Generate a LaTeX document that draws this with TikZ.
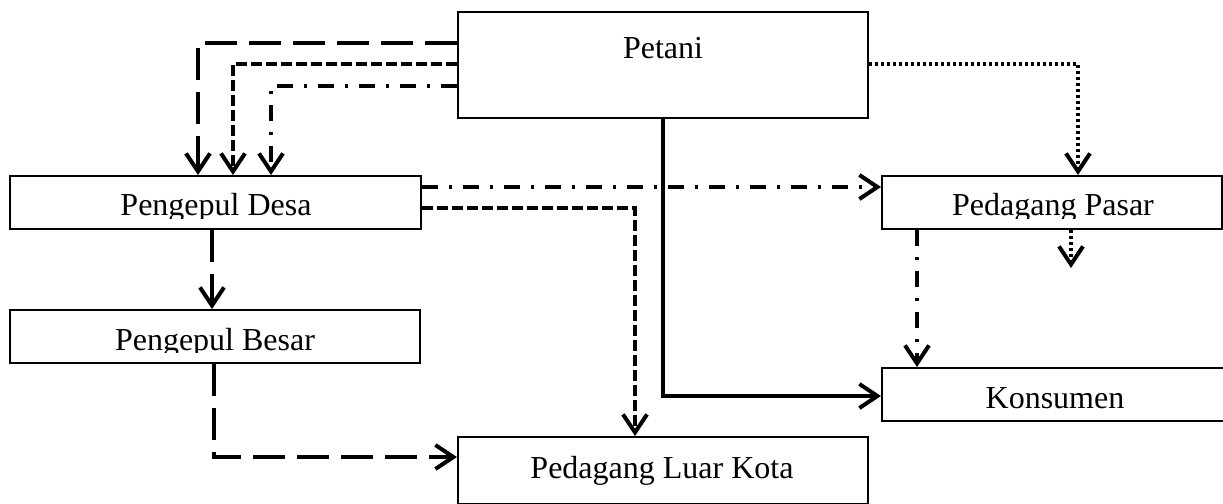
\documentclass[tikz,border=0pt]{standalone}
\usepackage{fontspec}
\setmainfont{Liberation Serif}
\usetikzlibrary{arrows.meta}
\begin{document}
\begin{tikzpicture}[x=0.5pt,y=-0.5pt,
  box/.style={draw,line width=1pt,rectangle,inner sep=0pt,anchor=center},
  lbl/.style={inner sep=0pt,anchor=base,font=\fontsize{16}{19}\selectfont},
  conn/.style={line width=2pt,-{Straight Barb[length=9pt,width=12pt]}},
  longdash/.style={dash pattern=on 16pt off 6pt},
  shortdash/.style={dash pattern=on 5.5pt off 2pt},
  dashdot/.style={dash pattern=on 8pt off 5.5pt on 1.5pt off 5.5pt},
  dots/.style={dash pattern=on 1.5pt off 1.5pt}]
\useasboundingbox (0,0) rectangle (1223,504);

% boxes
\node[box,minimum width=205pt,minimum height=53pt] (petani) at (663,65) {};
\node[box,minimum width=205.5pt,minimum height=26.5pt] (desa) at (215.5,202.5) {};
\node[box,minimum width=170pt,minimum height=26.5pt] (pasar) at (1052,202.5) {};
\node[box,minimum width=205pt,minimum height=26.5pt] (besar) at (215,336.5) {};
\node[box,minimum width=179pt,minimum height=26.5pt] (konsumen) at (1061,394.5) {};
\node[box,minimum width=205pt,minimum height=33.5pt] (luar) at (663,470.5) {};

% labels (descenders cut by the box interior where they overflow)
\node[lbl] (tpetani) at (663,58) {Petani};
\begin{scope}
  \clip (10,176) rectangle (421,218.5);
  \node[lbl] (tdesa) at (216,215) {Pengepul Desa};
\end{scope}
\begin{scope}
  \clip (882,176) rectangle (1222,218.5);
  \node[lbl] (tpasar) at (1053,215) {Pedagang Pasar};
\end{scope}
\begin{scope}
  \clip (10,310) rectangle (420,352.5);
  \node[lbl] (tbesar) at (215,350) {Pengepul Besar};
\end{scope}
\node[lbl] (tkonsumen) at (1055,408) {Konsumen};
\node[lbl] (tluar) at (662,478) {Pedagang Luar Kota};

% connectors
\draw[conn,longdash] (petani.west |- 0,43) -| (desa.north -| 198,0);
\draw[conn,shortdash] (petani.west |- 0,64) -| (desa.north -| 233,0);
\draw[conn,dashdot] (petani.west |- 0,86) -| (desa.north -| 271,0);
\draw[conn,dots] (petani.east |- 0,64) -| (pasar.north -| 1078,0);
\draw[conn,dashdot] (desa.east |- 0,187) -- (pasar.west |- 0,187);
\draw[conn,shortdash] (desa.east |- 0,208) -| (luar.north -| 635,0);
\draw[conn] (petani.south) |- (konsumen.west |- 0,396);
\draw[conn,longdash] (desa.south -| 212,0) -- (besar.north -| 212,0);
\draw[conn,longdash] (besar.south -| 214,0) |- (luar.west |- 0,457);
\draw[conn,dashdot] (pasar.south -| 917,0) -- (konsumen.north -| 917,0);
\coordinate (pasarend) at (1071,268);
\draw[conn,dots] (pasar.south -| 1071,0) -- (pasarend);
\end{tikzpicture}
\end{document}
